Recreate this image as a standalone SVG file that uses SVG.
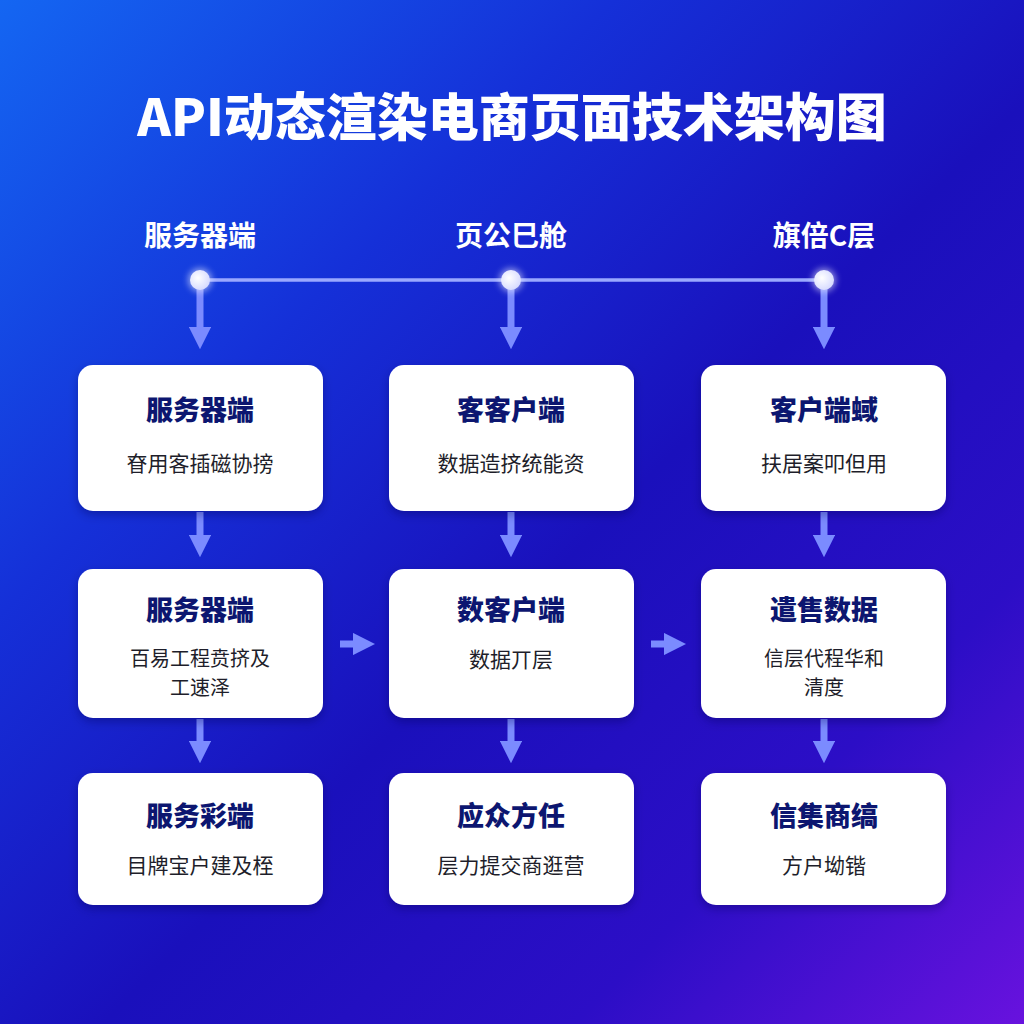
<svg xmlns="http://www.w3.org/2000/svg" width="1024" height="1024" viewBox="0 0 1024 1024">
<defs>
<linearGradient id="bg" x1="0" y1="0" x2="1" y2="1">
<stop offset="0" stop-color="#1466f2"/>
<stop offset="0.3" stop-color="#1530d8"/>
<stop offset="0.55" stop-color="#1a10bc"/>
<stop offset="0.78" stop-color="#2c0ec6"/>
<stop offset="1" stop-color="#6812de"/>
</linearGradient>
<radialGradient id="dot" cx="0.4" cy="0.4" r="0.6">
<stop offset="0" stop-color="#ffffff"/>
<stop offset="1" stop-color="#d8dcff"/>
</radialGradient>
<filter id="sh" x="-10%" y="-10%" width="120%" height="130%">
<feDropShadow dx="0" dy="4" stdDeviation="5" flood-color="#0a0650" flood-opacity="0.35"/>
</filter>
<filter id="glow" x="-100%" y="-100%" width="300%" height="300%">
<feGaussianBlur stdDeviation="3"/>
</filter>
<marker id="ah" viewBox="0 0 10 10" refX="5" refY="5" markerWidth="3.2" markerHeight="3.2" orient="auto-start-reverse" markerUnits="strokeWidth">
<path d="M0,0 L10,5 L0,10 Z" fill="#7b8bff"/>
</marker>
</defs>
<style>
.box{fill:#ffffff;filter:url(#sh)}
.t{font-family:"Noto Sans CJK SC","Noto Sans",sans-serif;font-weight:900;font-size:27px;fill:#0c1670;text-anchor:middle}
.s{font-family:"Noto Sans CJK SC","Noto Sans",sans-serif;font-weight:400;font-size:21px;fill:#1e1e2a;text-anchor:middle}
.s2{font-family:"Noto Sans CJK SC","Noto Sans",sans-serif;font-weight:400;font-size:20px;fill:#1e1e2a;text-anchor:middle}
.h{font-family:"Noto Sans CJK SC","Noto Sans",sans-serif;font-weight:700;font-size:28px;fill:#ffffff;text-anchor:middle}
.title{font-family:"Noto Sans CJK SC","Noto Sans",sans-serif;font-weight:900;font-size:51px;fill:#ffffff;text-anchor:middle}
.ar{stroke:#7b8bff;stroke-width:7;fill:none;marker-end:url(#ah)}
</style>
<rect width="1024" height="1024" fill="url(#bg)"/>
<text class="title" x="512" y="136">API动态渲染电商页面技术架构图</text>
<g id="headers">
<text class="h" x="200" y="246">服务器端</text>
<text class="h" x="511" y="246">页公巳舱</text>
<text class="h" x="824" y="246">旗倍C层</text>
</g>
<g id="connectors">
<line x1="200" y1="280" x2="824" y2="280" stroke="#9aa8ff" stroke-width="3.5"/>
<line class="ar" x1="200" y1="288" x2="200" y2="338"/>
<line class="ar" x1="511" y1="288" x2="511" y2="338"/>
<line class="ar" x1="824" y1="288" x2="824" y2="338"/>
<line class="ar" x1="200" y1="512" x2="200" y2="546"/>
<line class="ar" x1="511" y1="512" x2="511" y2="546"/>
<line class="ar" x1="824" y1="512" x2="824" y2="546"/>
<line class="ar" x1="200" y1="719" x2="200" y2="752"/>
<line class="ar" x1="511" y1="719" x2="511" y2="752"/>
<line class="ar" x1="824" y1="719" x2="824" y2="752"/>
<line class="ar" x1="340" y1="644" x2="364" y2="644"/>
<line class="ar" x1="651" y1="644" x2="675" y2="644"/>
</g>
<g id="dots">
<circle cx="200" cy="280" r="12" fill="#ffffff" opacity="0.5" filter="url(#glow)"/>
<circle cx="200" cy="280" r="10" fill="url(#dot)"/>
<circle cx="511" cy="280" r="12" fill="#ffffff" opacity="0.5" filter="url(#glow)"/>
<circle cx="511" cy="280" r="10" fill="url(#dot)"/>
<circle cx="824" cy="280" r="12" fill="#ffffff" opacity="0.5" filter="url(#glow)"/>
<circle cx="824" cy="280" r="10" fill="url(#dot)"/>
</g>
<g id="n11"><rect class="box" x="78" y="365" width="245" height="146" rx="15"/>
<text class="t" x="200" y="420">服务器端</text><text class="s" x="200" y="471">眘用客插磁协搒</text></g>
<g id="n12"><rect class="box" x="389" y="365" width="245" height="146" rx="15"/>
<text class="t" x="511" y="420">客客户端</text><text class="s" x="511" y="471">数据造挤统能资</text></g>
<g id="n13"><rect class="box" x="701" y="365" width="245" height="146" rx="15"/>
<text class="t" x="824" y="420">客户端蜮</text><text class="s" x="824" y="471">扶居案叩但用</text></g>
<g id="n21"><rect class="box" x="78" y="569" width="245" height="149" rx="15"/>
<text class="t" x="200" y="620">服务器端</text><text class="s2" x="200" y="666">百易工程贲挤及</text><text class="s2" x="200" y="695">工速泽</text></g>
<g id="n22"><rect class="box" x="389" y="569" width="245" height="149" rx="15"/>
<text class="t" x="511" y="620">数客户端</text><text class="s" x="511" y="667">数据丌层</text></g>
<g id="n23"><rect class="box" x="701" y="569" width="245" height="149" rx="15"/>
<text class="t" x="824" y="620">遣售数据</text><text class="s2" x="824" y="666">信层代程华和</text><text class="s2" x="824" y="695">清度</text></g>
<g id="n31"><rect class="box" x="78" y="773" width="245" height="132" rx="15"/>
<text class="t" x="200" y="826">服务彩端</text><text class="s" x="200" y="873">目牌宝户建及桎</text></g>
<g id="n32"><rect class="box" x="389" y="773" width="245" height="132" rx="15"/>
<text class="t" x="511" y="826">应众方任</text><text class="s" x="511" y="873">层力提交商逛营</text></g>
<g id="n33"><rect class="box" x="701" y="773" width="245" height="132" rx="15"/>
<text class="t" x="824" y="826">信集商缟</text><text class="s" x="824" y="873">方户坳锴</text></g>
</svg>
